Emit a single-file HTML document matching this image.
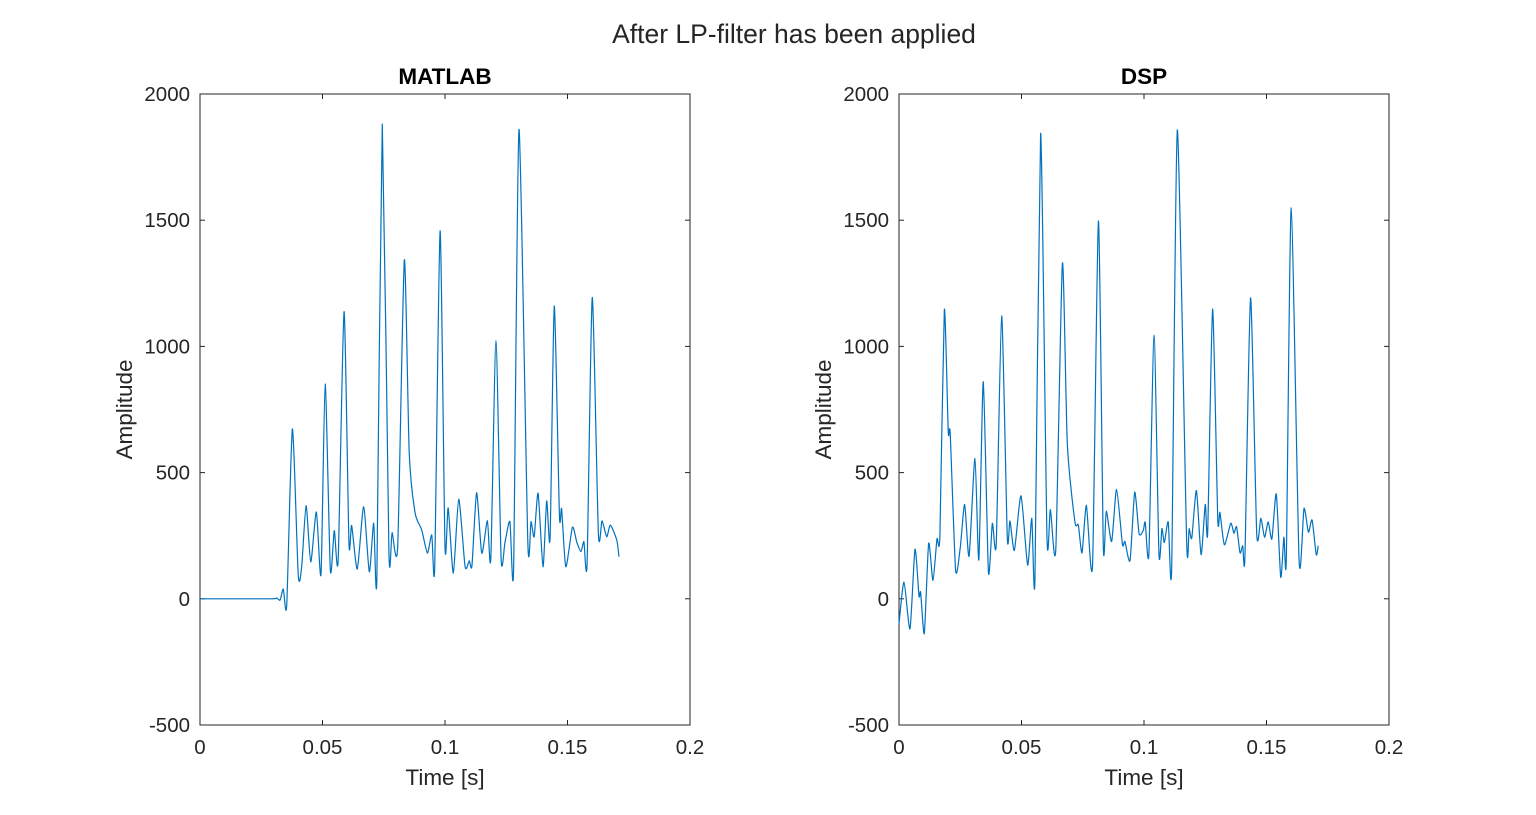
<!DOCTYPE html>
<html><head><meta charset="utf-8"><style>
body{margin:0;background:#fff;}
svg{display:block;font-family:"Liberation Sans",Arial,sans-serif;}
</style></head><body>
<svg id="fig" width="1536" height="815" viewBox="0 0 1536 815">
<rect width="1536" height="815" fill="#fff"/>
<text x="794" y="43" text-anchor="middle" font-size="26.5" fill="#262626">After LP-filter has been applied</text>
</svg>
<script>
const xTicks=[0,0.05,0.1,0.15,0.2];
const xTickLabels=["0","0.05","0.1","0.15","0.2"];
const yTicks=[-500,0,500,1000,1500,2000];
const yTickLabels=["-500","0","500","1000","1500","2000"];
const matlabTimeMs=[0,28.6,31.3,32.7,34.0,35.4,37.7,40.1,41.5,43.3,45.2,47.5,49.4,51.1,53.2,54.8,56.4,58.8,60.8,61.9,64.2,66.8,69.1,70.9,72.2,74.4,77.1,78.4,80.7,83.4,85.4,87.8,90.5,92.8,94.6,95.8,98.0,100.0,101.3,103.4,105.6,108.2,109.9,111.0,112.9,115.0,117.3,118.7,120.8,122.9,124.5,126.5,128.0,130.2,133.8,135.1,136.4,138.0,140.0,141.5,142.9,144.6,146.7,147.6,149.3,152.0,153.8,155.5,156.7,158.0,160.1,162.6,164.1,166.0,167.5,170.1,171.0];
const matlabAmp=[0,0,3,-5,39,-25,673,94,127,369,146,344,98,851,114,270,154,1138,221,290,118,365,107,300,84,1881,189,262,209,1342,577,340,273,181,253,126,1458,206,360,102,395,127,151,131,420,181,309,158,1023,158,225,306,118,1860,226,306,246,418,127,387,241,1160,332,356,127,283,224,187,226,141,1194,259,309,246,292,233,167];
const dspTimeMs=[0,2.04,4.49,6.53,8.16,8.84,10.34,12.1,13.86,15.5,16.7,18.5,20.1,20.9,23.1,25.0,26.8,28.6,31.0,32.6,34.4,36.5,38.1,39.7,41.9,44.2,45.3,47.1,49.8,52.5,54.2,55.5,57.8,60.4,61.8,64.0,66.7,68.7,71.8,73.2,74.7,76.5,79.0,81.4,83.4,84.6,86.8,88.8,91.2,92.2,94.3,96.2,98.0,99.7,100.5,102.0,104.1,106.1,107.3,108.3,109.9,111.3,113.6,117.4,118.4,119.5,121.4,123.3,125.0,126.0,128.0,130.1,131.0,132.8,135.4,136.7,137.8,139.2,140.3,141.2,143.5,146.0,147.7,149.2,150.7,152.2,154.0,155.8,157.1,158.1,160.1,163.3,165.3,167.1,168.6,170.3,171.1];
const dspAmp=[-99,66,-119,196,11,25,-137,219,73,237,251,1145,662,655,114,203,374,169,556,155,860,107,299,219,1121,244,308,192,408,134,319,79,1844,244,353,196,1329,614,305,292,182,370,134,1497,205,347,227,433,216,227,152,422,258,271,303,178,1045,178,278,223,305,123,1858,230,278,241,429,175,374,264,1148,319,342,214,299,260,285,182,210,168,1192,260,319,244,305,237,415,86,244,162,1549,151,358,264,312,175,210];

const NS="http://www.w3.org/2000/svg";
const svg=document.getElementById('fig');
function mk(tag,attrs,parent){const e=document.createElementNS(NS,tag);for(const k in attrs)e.setAttribute(k,attrs[k]);(parent||svg).appendChild(e);return e;}

function drawAxes(x0,title,times,amps,key){
  const x1=x0+490,y0=94,y1=725;
  const g=mk('g',{});
  
  
  const sx=t=>x0+(t-0)/(0.2)*(x1-x0);
  const sy=v=>y1-(v+500)/2500*(y1-y0);
  const box=mk('rect',{x:x0,y:y0,width:x1-x0,height:y1-y0,fill:'#fff',stroke:'#262626','stroke-width':1},g);
  
  
  xTicks.forEach((t,i)=>{
    const x=sx(t);
    mk('line',{x1:x,y1:y1,x2:x,y2:y1-5,stroke:'#262626'},g);
    mk('line',{x1:x,y1:y0,x2:x,y2:y0+5,stroke:'#262626'},g);
    const tx=mk('text',{x:x,y:y1+29,'text-anchor':'middle','font-size':20.5,fill:'#262626'},g);
    tx.textContent=xTickLabels[i];
    
    
  });
  yTicks.forEach((v,i)=>{
    const y=sy(v);
    mk('line',{x1:x0,y1:y,x2:x0+5,y2:y,stroke:'#262626'},g);
    mk('line',{x1:x1,y1:y,x2:x1-5,y2:y,stroke:'#262626'},g);
    const tx=mk('text',{x:x0-10,y:y+7,'text-anchor':'end','font-size':20.5,fill:'#262626'},g);
    tx.textContent=yTickLabels[i];
    
    
  });
  const tt=mk('text',{x:(x0+x1)/2,y:84,'text-anchor':'middle','font-size':22.5,'font-weight':'bold',fill:'#000'},g);
  tt.textContent=title;
  
  
  const xl=mk('text',{x:(x0+x1)/2,y:785,'text-anchor':'middle','font-size':22.5,fill:'#262626'},g);
  xl.textContent='Time [s]';
  
  
  const yl=mk('text',{x:0,y:0,'text-anchor':'middle','font-size':22.5,fill:'#262626',transform:`translate(${x0-68},${(y0+y1)/2}) rotate(-90)`},g);
  yl.textContent='Amplitude';
  
  
  const pts=times.map((t,i)=>[sx(t/1000),sy(amps[i])]);
  let d='M'+pts[0][0].toFixed(2)+','+pts[0][1].toFixed(2);
  const k=0.22;
  for(let i=0;i<pts.length-1;i++){
    const p0=pts[Math.max(0,i-1)],p1=pts[i],p2=pts[i+1],p3=pts[Math.min(pts.length-1,i+2)];
    const c1=[p1[0]+(p2[0]-p0[0])*k/2,p1[1]+(p2[1]-p0[1])*k/2];
    const c2=[p2[0]-(p3[0]-p1[0])*k/2,p2[1]-(p3[1]-p1[1])*k/2];
    d+=`C${c1[0].toFixed(2)},${c1[1].toFixed(2)} ${c2[0].toFixed(2)},${c2[1].toFixed(2)} ${p2[0].toFixed(2)},${p2[1].toFixed(2)}`;
  }
  const line=mk('path',{d:d,fill:'none',stroke:'#0072BD','stroke-width':1.2,'stroke-linejoin':'round'},g);
  
  
}
drawAxes(200,'MATLAB',matlabTimeMs,matlabAmp,'matlab');
drawAxes(899,'DSP',dspTimeMs,dspAmp,'dsp');
</script>
</body></html>
